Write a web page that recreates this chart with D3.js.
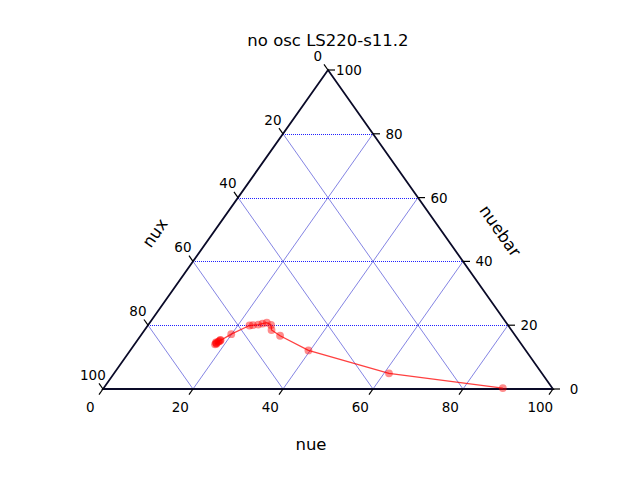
<!DOCTYPE html>
<html><head><meta charset="utf-8">
<script src="https://cdn.jsdelivr.net/npm/d3@7"></script>
<style>body{margin:0;background:#fff}svg{display:block}text{font-family:"DejaVu Sans",sans-serif;fill:#000}</style>
</head><body>
<script>
const title = "no osc LS220-s11.2";
const axisNames = {bottom: "nue", right: "nuebar", left: "nux"};
const tickValues = [0, 20, 40, 60, 80, 100];
const gridValues = [20, 40, 60, 80];
// series: nue, nuebar, nux (percent)
const nue    = [88.7, 61.1, 39.6, 31.0, 28.2, 27.3, 26.0, 25.2, 24.4, 23.3, 22.6, 19.9, 18.5, 18.3, 18.0, 17.9, 18.2, 18.4, 18.1, 17.8];
const nuebar = [ 0.3,  4.9, 12.1, 16.7, 18.5, 20.1, 20.8, 20.5, 20.2, 20.0, 19.9, 17.2, 15.2, 15.0, 14.4, 14.0, 14.8, 15.4, 14.2, 14.6];
const nux    = nue.map((d,i)=>100 - d - nuebar[i]);

const W = 640, H = 480;
const svg = d3.select("body").append("svg").attr("width", W).attr("height", H);

const xS = d3.scaleLinear().domain([0, 100]).range([103, 553]);
const yS = d3.scaleLinear().domain([0, 100]).range([389, 70]);
const P = (t, r) => [xS(t + r / 2), yS(r)];

// grid lines
const grid = svg.append("g").attr("fill", "none");
gridValues.forEach(v => {
  let a = P(0, v), b = P(100 - v, v);
  const yy = Math.round(a[1]) + 0.5;
  grid.append("line").attr("x1", Math.round(a[0])).attr("y1", yy).attr("x2", b[0]).attr("y2", yy)
    .attr("stroke-width", 1).attr("stroke-dasharray", "1,1").attr("stroke", "#2020ff");
  a = P(v, 0); b = P(v, 100 - v);
  grid.append("line").attr("x1", a[0]).attr("y1", a[1]).attr("x2", b[0]).attr("y2", b[1])
    .attr("stroke-width", 0.6).attr("stroke", "#3030d0");
  a = P(0, 100 - v); b = P(100 - v, 0);
  grid.append("line").attr("x1", a[0]).attr("y1", a[1]).attr("x2", b[0]).attr("y2", b[1])
    .attr("stroke-width", 0.6).attr("stroke", "#3030d0");
});

// triangle
const tri = [P(0, 0), P(100, 0), P(0, 100)];
svg.append("path").attr("d", d3.line()(tri) + "Z").attr("fill", "none")
  .attr("stroke", "#0a0a28").attr("stroke-width", 1.8);

// ticks
const L = 7;
const dBottom = [-0.576, 0.817], dLeft = [-0.576, -0.817], dRight = [1, 0];
const tg = svg.append("g");
function tick(p, d, labelDist, txt) {
  tg.append("line").attr("x1", p[0]).attr("y1", p[1]).attr("x2", p[0] + d[0] * L).attr("y2", p[1] + d[1] * L)
    .attr("stroke", "#000").attr("stroke-width", 1.2);
  tg.append("text").attr("x", p[0] + d[0] * labelDist).attr("y", p[1] + d[1] * labelDist)
    .attr("text-anchor", "middle").attr("dominant-baseline", "central").attr("font-size", 13.5).text(txt);
}
tickValues.forEach(v => {
  tick(P(v, 0), dBottom, 22, v);           // nue
  tick(P(100 - v, v), dRight, 21, v);      // nuebar
  tick(P(0, 100 - v), dLeft, 17.5, v);     // nux
});

// axis labels
svg.append("text").attr("x", 311).attr("y", 444).attr("text-anchor", "middle").attr("dominant-baseline", "central")
  .attr("font-size", 16.5).text(axisNames.bottom);
svg.append("text").attr("transform", "translate(155,233) rotate(-54.8)").attr("text-anchor", "middle").attr("dominant-baseline", "central")
  .attr("font-size", 16.5).text(axisNames.left);
svg.append("text").attr("transform", "translate(500,231) rotate(54.8)").attr("text-anchor", "middle").attr("dominant-baseline", "central")
  .attr("font-size", 16.5).text(axisNames.right);

// title
svg.append("text").attr("x", 328).attr("y", 40).attr("text-anchor", "middle").attr("dominant-baseline", "central")
  .attr("font-size", 16.5).text(title);

// data
const pts = nue.map((t, i) => P(t, nuebar[i]));
svg.append("path").attr("d", d3.line()(pts)).attr("fill", "none").attr("stroke", "#ff0000")
  .attr("stroke-opacity", 0.75).attr("stroke-width", 1.3);
svg.append("g").selectAll("circle").data(pts).join("circle")
  .attr("cx", d => d[0]).attr("cy", d => d[1]).attr("r", 3.9)
  .attr("fill", "#ff0000").attr("fill-opacity", 0.45);
</script>
</body></html>
